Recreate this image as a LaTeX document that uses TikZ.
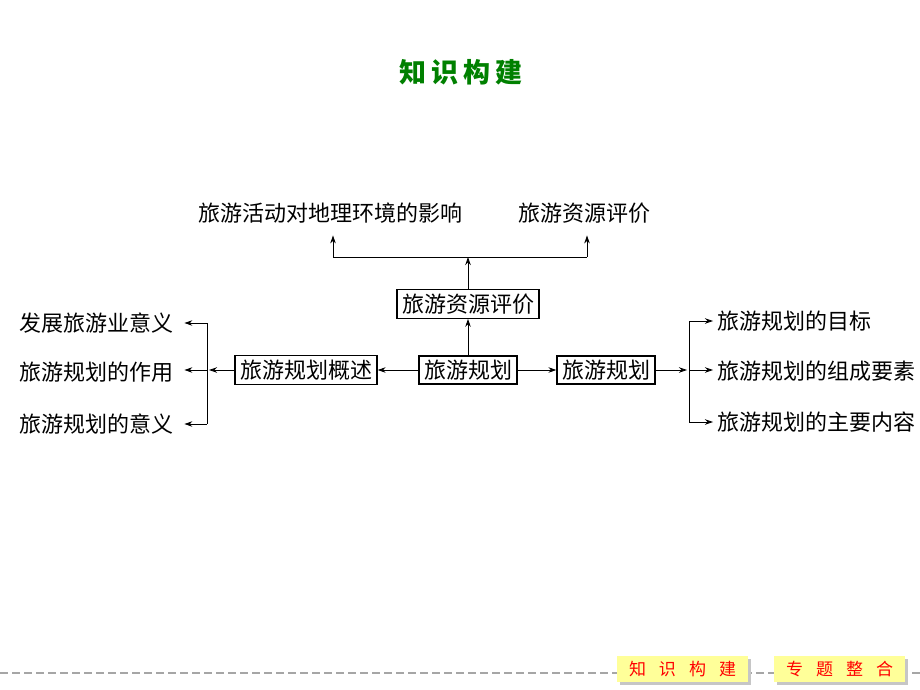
\documentclass[tikz,border=0pt]{standalone}
\usepackage{fontspec}
\newfontfamily\cjk{Noto Sans CJK SC}
\usetikzlibrary{arrows.meta}
\definecolor{titlegreen}{RGB}{0,128,0}
\definecolor{btnyellow}{RGB}{255,255,153}
\tikzset{
  topic/.style={draw=black, line width=1.3pt, inner xsep=5pt, inner ysep=4pt, font=\cjk\fontsize{22}{24}\selectfont},
  leaf/.style={inner sep=1pt, font=\cjk\fontsize{22}{24}\selectfont},
  link/.style={line width=0.9pt, draw=black},
  arr/.style={link, -{Stealth[length=8pt,width=5.5pt]}},
  btn/.style={fill=btnyellow, minimum width=131pt, minimum height=26pt, text=red, font=\cjk\fontsize{17}{19}\selectfont},
}
\begin{document}
\begin{tikzpicture}[x=1pt,y=-1pt]
\useasboundingbox (0,0) rectangle (920,690);
% title
\node[text=titlegreen, font=\cjk\bfseries\fontsize{27}{29}\selectfont] (title) at (461,72) {知\kern5pt 识\kern5pt 构\kern5pt 建};

% boxes
\node[topic] (ziyuan) at (468,304) {旅游资源评价};
\node[topic] (guihua) at (468,370) {旅游规划};
\node[topic] (gaishu) at (306,370) {旅游规划概述};
\node[topic] (guihuab) at (606,370) {旅游规划};

% top row
\node[leaf] (yingxiang) at (330,213) {旅游活动对地理环境的影响};
\node[leaf] (pingjia) at (584,213) {旅游资源评价};

% left column
\node[leaf, anchor=west] (yiyi1) at (18,323) {发展旅游业意义};
\node[leaf, anchor=west] (zuoyong) at (18,372) {旅游规划的作用};
\node[leaf, anchor=west] (yiyi2) at (18,424) {旅游规划的意义};

% right column
\node[leaf, anchor=west] (mubiao) at (716,321) {旅游规划的目标};
\node[leaf, anchor=west] (yaosu) at (716,371) {旅游规划的组成要素};
\node[leaf, anchor=west] (neirong) at (716,422) {旅游规划的主要内容};

% junctions
\coordinate (jt) at (468,257);
\coordinate (jl) at (333,257);
\coordinate (jr) at (587,257);
\coordinate (jw) at (207,370);
\coordinate (jwt) at (207,323);
\coordinate (jwb) at (207,424);
\coordinate (je) at (689,370);
\coordinate (jet) at (689,321);
\coordinate (jeb) at (689,422);

% connectors
\draw[arr] (guihua) -- (ziyuan);
\draw[arr] (ziyuan.north) -- (jt);
\draw[link] (jl) -- (jr);
\draw[arr] (jl) -- ([yshift=-11pt]jl |- yingxiang.south);
\draw[arr] (jr) -- ([yshift=-11pt]jr |- pingjia.south);
\draw[arr] (guihua) -- (gaishu);
\draw[arr] (guihua) -- (guihuab);

\draw[arr] (gaishu) -- ([xshift=2pt]jw);
\draw[link] (jwt) -- (jwb);
\draw[arr] (jwt) -- ([xshift=10pt]yiyi1.east |- jwt);
\draw[arr] (jw) -- ([xshift=10pt]zuoyong.east |- jw);
\draw[arr] (jwb) -- ([xshift=10pt]yiyi2.east |- jwb);

\draw[arr] (guihuab) -- ([xshift=-2pt]je);
\draw[link] (jet) -- (jeb);
\draw[arr] (jet) -- ([xshift=-3pt]mubiao.west |- jet);
\draw[arr] (je) -- ([xshift=-3pt]yaosu.west |- je);
\draw[arr] (jeb) -- ([xshift=-3pt]neirong.west |- jeb);

% footer
\draw[gray!70, line width=1.5pt, dash pattern=on 8pt off 4pt] (0,673) -- (920,673);
\fill[gray!45] (620,659) rectangle (751,685);
\fill[gray!45] (777,659) rectangle (908,685);
\node[btn] (zhishi) at (682.5,669) {知\hspace{13pt}识\hspace{13pt}构\hspace{13pt}建};
\node[btn] (zhuanti) at (839.5,669) {专\hspace{13pt}题\hspace{13pt}整\hspace{13pt}合};
\end{tikzpicture}
\end{document}
